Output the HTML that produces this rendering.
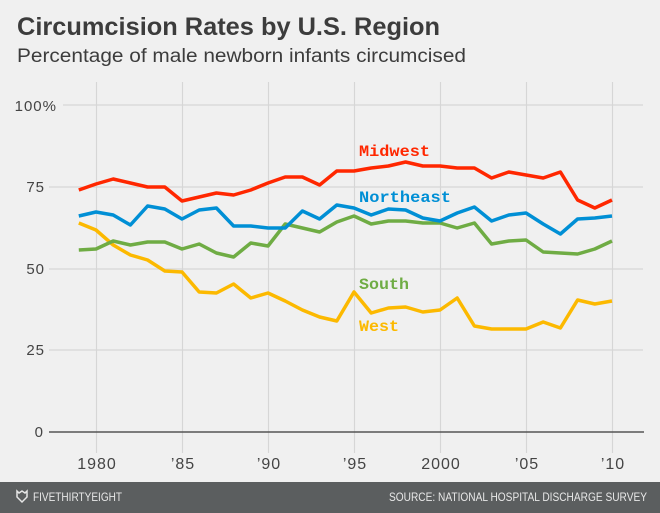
<!DOCTYPE html>
<html><head><meta charset="utf-8"><style>
html,body{margin:0;padding:0;background:#f0f0f0;}
svg{display:block;}
</style></head><body>
<svg width="660" height="513" xmlns="http://www.w3.org/2000/svg">
<rect width="660" height="513" fill="#f0f0f0"/>
<text x="17" y="35" font-family="Liberation Sans, sans-serif" font-weight="bold" font-size="25" fill="#3c3c3c" textLength="423" lengthAdjust="spacingAndGlyphs">Circumcision Rates by U.S. Region</text>
<text x="17" y="62" font-family="Liberation Sans, sans-serif" font-size="19" fill="#3c3c3c" textLength="449" lengthAdjust="spacingAndGlyphs">Percentage of male newborn infants circumcised</text>
<g stroke="#d6d6d6" stroke-width="1.2">
<line x1="63" y1="105" x2="643" y2="105"/>
<line x1="49" y1="187" x2="643" y2="187"/>
<line x1="49" y1="269" x2="643" y2="269"/>
<line x1="49" y1="350" x2="643" y2="350"/>
<line x1="96.5" y1="82" x2="96.5" y2="453"/>
<line x1="182.5" y1="82" x2="182.5" y2="453"/>
<line x1="268.5" y1="82" x2="268.5" y2="453"/>
<line x1="354.5" y1="82" x2="354.5" y2="453"/>
<line x1="440.5" y1="82" x2="440.5" y2="453"/>
<line x1="526.5" y1="82" x2="526.5" y2="453"/>
<line x1="612.5" y1="82" x2="612.5" y2="453"/>
</g>
<line x1="49" y1="432" x2="644" y2="432" stroke="#555" stroke-width="1.5"/>
<g font-family="Liberation Sans, sans-serif" font-size="15" fill="#444" text-anchor="end" letter-spacing="1">
<text x="57" y="111">100%</text>
<text x="45" y="192">75</text>
<text x="45" y="274">50</text>
<text x="45" y="355">25</text>
<text x="44" y="437">0</text>
</g>
<g font-family="Liberation Sans, sans-serif" font-size="16" fill="#444" text-anchor="middle" letter-spacing="1">
<text x="97" y="469">1980</text>
<text x="183" y="469">’85</text>
<text x="269" y="469">’90</text>
<text x="355" y="469">’95</text>
<text x="441" y="469">2000</text>
<text x="527" y="469">’05</text>
<text x="613" y="469">’10</text>
</g>
<g fill="none" stroke-width="3.5" stroke-linejoin="round">
<polyline stroke="#fcb900" points="78.8,223 96,230 113.2,245 130.4,255 147.6,260 164.8,271 182,272 199.2,292 216.4,293 233.6,284 250.8,298 268,293 285.2,301 302.4,310 319.6,317 336.8,321 354,292 371.2,313 388.4,308 405.6,307 422.8,312 440,310 457.2,298 474.4,326 491.6,329 508.8,329 526,329 543.2,322 560.4,328 577.6,300 594.8,304 612,301"/>
<polyline stroke="#6fac44" points="78.8,250 96,249 113.2,241 130.4,245 147.6,242 164.8,242 182,249 199.2,244 216.4,253 233.6,257 250.8,243 268,246 285.2,224 302.4,228 319.6,232 336.8,222 354,216 371.2,224 388.4,221 405.6,221 422.8,223 440,223 457.2,228 474.4,223 491.6,244 508.8,241 526,240 543.2,252 560.4,253 577.6,254 594.8,249 612,241"/>
<polyline stroke="#008fd5" points="78.8,216 96,212 113.2,215 130.4,225 147.6,206 164.8,209 182,219 199.2,210 216.4,208 233.6,226 250.8,226 268,228 285.2,228 302.4,211 319.6,219 336.8,205 354,208 371.2,215 388.4,209 405.6,210 422.8,218 440,221 457.2,213 474.4,207 491.6,221 508.8,215 526,213 543.2,224 560.4,234 577.6,219 594.8,218 612,216"/>
<polyline stroke="#ff2700" points="78.8,190 96,184 113.2,179 130.4,183 147.6,187 164.8,187 182,201 199.2,197 216.4,193 233.6,195 250.8,190 268,183 285.2,177 302.4,177 319.6,185 336.8,171 354,171 371.2,168 388.4,166 405.6,162 422.8,166 440,166 457.2,168 474.4,168 491.6,178 508.8,172 526,175 543.2,178 560.4,172 577.6,200 594.8,208 612,200"/>
</g>
<g font-family="Liberation Mono, monospace" font-weight="bold" font-size="16">
<text x="359" y="156" fill="#ff2700" textLength="71" lengthAdjust="spacingAndGlyphs">Midwest</text>
<text x="359" y="202" fill="#008fd5" textLength="92" lengthAdjust="spacingAndGlyphs">Northeast</text>
<text x="359" y="289" fill="#6fac44" textLength="50" lengthAdjust="spacingAndGlyphs">South</text>
<text x="359" y="331" fill="#fcb900" textLength="40" lengthAdjust="spacingAndGlyphs">West</text>
</g>
<rect x="0" y="482" width="660" height="31" fill="#5b5e5f"/>
<path d="M17,491 L19,493 L22,491 L25,493 L27,491 L27,497 L22,502 L17,497 Z" fill="none" stroke="#e6e6e6" stroke-width="1.5"/>
<g font-family="Liberation Sans, sans-serif" font-size="12" fill="#e8e8e8">
<text x="33" y="501" textLength="89" lengthAdjust="spacingAndGlyphs">FIVETHIRTYEIGHT</text>
<text x="389" y="501" textLength="258" lengthAdjust="spacingAndGlyphs">SOURCE: NATIONAL HOSPITAL DISCHARGE SURVEY</text>
</g>
</svg>
</body></html>
